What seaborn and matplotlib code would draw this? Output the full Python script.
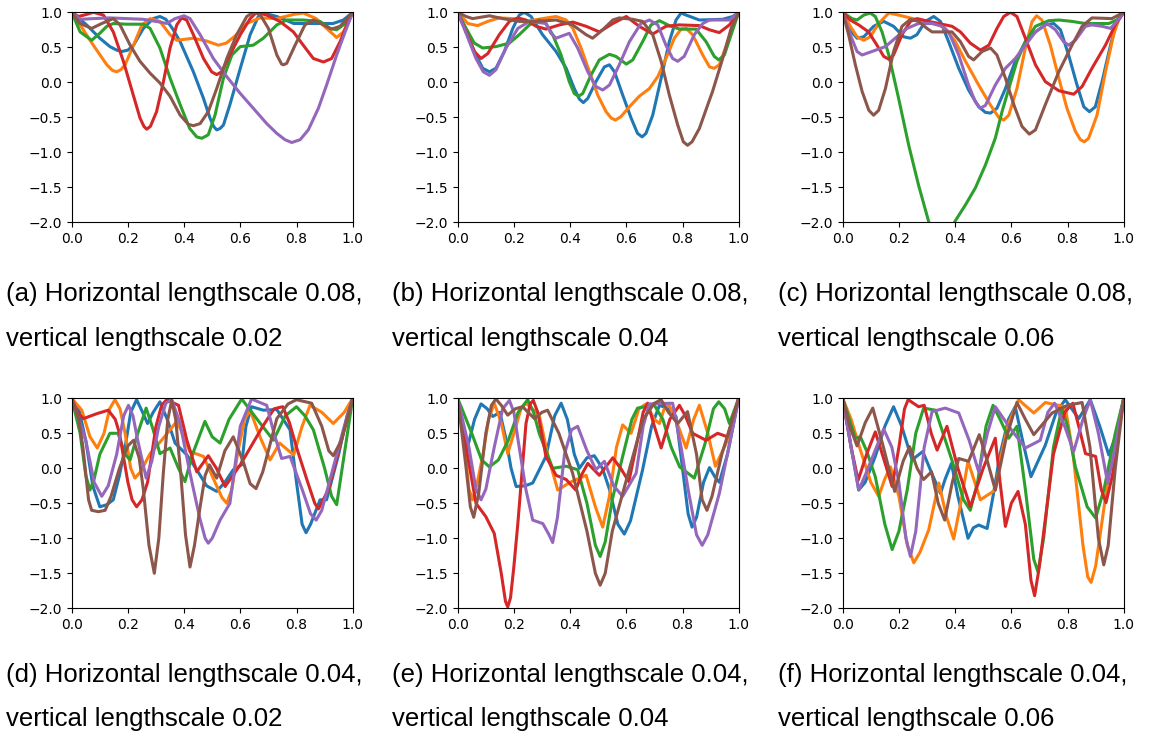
import matplotlib
matplotlib.use("Agg")
import matplotlib.pyplot as plt
import seaborn as sns
import pandas as pd

# ---------------- data ----------------
series_names = ["s1", "s2", "s3", "s4", "s5", "s6"]
palette = ["#1f77b4", "#ff7f0e", "#2ca02c", "#d62728", "#9467bd", "#8c564b"]

captions = [
    ("(a) Horizontal lengthscale 0.08,", "vertical lengthscale 0.02"),
    ("(b) Horizontal lengthscale 0.08,", "vertical lengthscale 0.04"),
    ("(c) Horizontal lengthscale 0.08,", "vertical lengthscale 0.06"),
    ("(d) Horizontal lengthscale 0.04,", "vertical lengthscale 0.02"),
    ("(e) Horizontal lengthscale 0.04,", "vertical lengthscale 0.04"),
    ("(f) Horizontal lengthscale 0.04,", "vertical lengthscale 0.06"),
]
x_ticks = [0.0, 0.2, 0.4, 0.6, 0.8, 1.0]
y_ticks = [-2.0, -1.5, -1.0, -0.5, 0.0, 0.5, 1.0]

# panel (a)
a_blue = [(0,1),(0.053,0.82),(0.1,0.63),(0.136,0.51),(0.16,0.46),(0.178,0.44),(0.2,0.46),(0.22,0.53),(0.255,0.77),(0.29,0.91),(0.314,0.94),(0.335,0.9),(0.36,0.76),(0.386,0.58),(0.433,0.15),(0.469,-0.23),(0.492,-0.51),(0.505,-0.63),(0.516,-0.68),(0.528,-0.66),(0.54,-0.61),(0.563,-0.32),(0.6,0.2),(0.635,0.68),(0.664,0.94),(0.682,0.99),(0.73,0.94),(0.79,0.84),(0.86,0.84),(0.93,0.84),(0.967,0.89),(1,1)]
a_orange = [(0,1),(0.03,0.82),(0.077,0.53),(0.125,0.25),(0.145,0.17),(0.16,0.15),(0.175,0.18),(0.19,0.25),(0.22,0.53),(0.25,0.82),(0.279,0.91),(0.314,0.87),(0.35,0.68),(0.374,0.6),(0.433,0.63),(0.48,0.59),(0.522,0.53),(0.55,0.56),(0.587,0.68),(0.623,0.84),(0.67,0.92),(0.73,0.91),(0.79,0.97),(0.824,0.99),(0.87,0.91),(0.907,0.77),(0.943,0.64),(0.967,0.72),(1,1)]
a_green = [(0,1),(0.03,0.72),(0.071,0.6),(0.1,0.7),(0.125,0.8),(0.148,0.84),(0.196,0.83),(0.255,0.83),(0.279,0.77),(0.314,0.49),(0.35,0.06),(0.386,-0.32),(0.42,-0.66),(0.445,-0.78),(0.463,-0.8),(0.486,-0.75),(0.51,-0.47),(0.54,0.06),(0.57,0.39),(0.6,0.51),(0.646,0.53),(0.682,0.63),(0.73,0.82),(0.765,0.89),(0.824,0.89),(0.884,0.87),(0.919,0.77),(0.943,0.75),(0.973,0.84),(1,1)]
a_red = [(0,1),(0.024,0.94),(0.053,0.97),(0.077,1.0),(0.113,0.96),(0.148,0.72),(0.184,0.3),(0.219,-0.18),(0.243,-0.51),(0.257,-0.63),(0.267,-0.67),(0.28,-0.63),(0.302,-0.42),(0.326,0.0),(0.35,0.49),(0.374,0.82),(0.391,0.92),(0.409,0.89),(0.433,0.68),(0.469,0.34),(0.498,0.15),(0.516,0.11),(0.534,0.15),(0.563,0.39),(0.6,0.68),(0.635,0.91),(0.658,1.0),(0.694,0.96),(0.741,0.87),(0.789,0.72),(0.824,0.53),(0.86,0.34),(0.896,0.29),(0.925,0.34),(0.955,0.58),(0.979,0.82),(1,1)]
a_purple = [(0,1),(0.03,0.9),(0.077,0.91),(0.136,0.92),(0.255,0.9),(0.314,0.86),(0.338,0.84),(0.368,0.91),(0.4,0.95),(0.421,0.91),(0.457,0.68),(0.504,0.34),(0.552,0.08),(0.6,-0.16),(0.646,-0.37),(0.694,-0.59),(0.73,-0.73),(0.759,-0.82),(0.783,-0.86),(0.813,-0.82),(0.842,-0.68),(0.878,-0.37),(0.907,-0.04),(0.943,0.39),(0.973,0.72),(1,1)]
a_brown = [(0,1),(0.03,0.84),(0.071,0.77),(0.107,0.84),(0.148,0.91),(0.172,0.82),(0.208,0.53),(0.243,0.3),(0.279,0.13),(0.314,-0.01),(0.35,-0.2),(0.386,-0.47),(0.415,-0.6),(0.433,-0.62),(0.457,-0.59),(0.486,-0.42),(0.516,-0.09),(0.552,0.34),(0.587,0.68),(0.623,0.94),(0.646,1.0),(0.67,0.97),(0.7,0.77),(0.73,0.39),(0.747,0.26),(0.753,0.25),(0.765,0.27),(0.795,0.53),(0.83,0.82),(0.86,0.89),(0.896,0.82),(0.925,0.76),(0.955,0.8),(0.979,0.91),(1,1)]

# panel (b)
b_blue = [(0,1),(0.03,0.72),(0.065,0.39),(0.089,0.2),(0.113,0.15),(0.136,0.2),(0.166,0.44),(0.196,0.77),(0.219,0.96),(0.237,1.0),(0.261,0.94),(0.302,0.68),(0.35,0.44),(0.386,0.2),(0.415,-0.09),(0.433,-0.24),(0.447,-0.29),(0.463,-0.23),(0.492,0.01),(0.522,0.22),(0.54,0.25),(0.558,0.15),(0.587,-0.18),(0.617,-0.51),(0.64,-0.73),(0.656,-0.78),(0.67,-0.73),(0.694,-0.47),(0.724,0.06),(0.753,0.58),(0.777,0.89),(0.795,0.99),(0.813,0.96),(0.86,0.89),(0.943,0.9),(0.979,0.94),(1,1)]
b_orange = [(0,1),(0.036,0.84),(0.071,0.81),(0.107,0.87),(0.148,0.92),(0.196,0.91),(0.243,0.87),(0.302,0.91),(0.35,0.94),(0.386,0.89),(0.41,0.77),(0.439,0.49),(0.469,0.15),(0.498,-0.18),(0.528,-0.42),(0.546,-0.51),(0.561,-0.54),(0.581,-0.49),(0.611,-0.35),(0.646,-0.2),(0.682,-0.09),(0.712,0.08),(0.741,0.34),(0.771,0.63),(0.795,0.76),(0.813,0.77),(0.836,0.68),(0.872,0.39),(0.896,0.22),(0.913,0.2),(0.931,0.25),(0.961,0.58),(0.985,0.87),(1,1)]
b_green = [(0,1),(0.03,0.77),(0.059,0.56),(0.089,0.49),(0.136,0.51),(0.184,0.56),(0.219,0.68),(0.255,0.82),(0.29,0.89),(0.314,0.84),(0.338,0.68),(0.368,0.39),(0.397,0.01),(0.415,-0.16),(0.43,-0.2),(0.445,-0.16),(0.474,0.1),(0.504,0.32),(0.54,0.4),(0.563,0.37),(0.6,0.26),(0.623,0.32),(0.658,0.58),(0.688,0.82),(0.718,0.88),(0.753,0.81),(0.79,0.76),(0.848,0.76),(0.884,0.58),(0.913,0.37),(0.929,0.32),(0.949,0.39),(0.973,0.68),(1,1)]
b_red = [(0,1),(0.03,0.72),(0.059,0.44),(0.083,0.34),(0.107,0.41),(0.148,0.68),(0.184,0.87),(0.214,0.92),(0.243,0.89),(0.279,0.8),(0.314,0.76),(0.362,0.82),(0.41,0.86),(0.457,0.8),(0.504,0.72),(0.552,0.84),(0.6,0.94),(0.646,0.8),(0.694,0.69),(0.741,0.8),(0.789,0.82),(0.86,0.81),(0.896,0.75),(0.931,0.71),(0.967,0.82),(1,1)]
b_purple = [(0,1),(0.03,0.7),(0.065,0.34),(0.091,0.15),(0.113,0.1),(0.136,0.18),(0.172,0.49),(0.214,0.77),(0.255,0.87),(0.314,0.84),(0.332,0.7),(0.35,0.63),(0.397,0.7),(0.427,0.49),(0.463,0.15),(0.492,-0.06),(0.516,-0.11),(0.54,-0.04),(0.575,0.25),(0.611,0.58),(0.652,0.84),(0.682,0.89),(0.712,0.82),(0.741,0.53),(0.765,0.34),(0.783,0.3),(0.806,0.37),(0.842,0.68),(0.872,0.84),(0.896,0.89),(0.967,0.89),(1,1)]
b_brown = [(0,1),(0.03,0.94),(0.053,0.91),(0.113,0.95),(0.16,0.91),(0.219,0.87),(0.279,0.87),(0.35,0.89),(0.409,0.82),(0.457,0.68),(0.48,0.63),(0.516,0.75),(0.552,0.89),(0.575,0.92),(0.623,0.9),(0.658,0.87),(0.694,0.68),(0.724,0.3),(0.753,-0.18),(0.783,-0.61),(0.803,-0.85),(0.818,-0.9),(0.834,-0.85),(0.86,-0.66),(0.89,-0.32),(0.907,-0.13),(0.943,0.34),(0.973,0.77),(1,1)]

# panel (c)
c_blue = [(0,1),(0.021,0.77),(0.051,0.63),(0.075,0.65),(0.11,0.8),(0.146,0.87),(0.181,0.8),(0.217,0.65),(0.241,0.63),(0.264,0.68),(0.294,0.87),(0.324,0.94),(0.348,0.87),(0.377,0.58),(0.413,0.2),(0.448,-0.11),(0.484,-0.35),(0.508,-0.43),(0.526,-0.44),(0.549,-0.37),(0.579,-0.09),(0.614,0.3),(0.65,0.58),(0.686,0.72),(0.721,0.82),(0.751,0.84),(0.775,0.75),(0.804,0.39),(0.834,-0.04),(0.858,-0.35),(0.878,-0.42),(0.899,-0.35),(0.923,0.01),(0.953,0.53),(0.976,0.87),(1,1)]
c_orange = [(0,1),(0.027,0.8),(0.051,0.65),(0.075,0.6),(0.098,0.65),(0.128,0.84),(0.164,0.99),(0.199,0.96),(0.27,0.89),(0.342,0.82),(0.365,0.77),(0.401,0.58),(0.437,0.3),(0.484,-0.04),(0.525,-0.32),(0.555,-0.5),(0.573,-0.54),(0.591,-0.47),(0.62,-0.09),(0.65,0.49),(0.674,0.87),(0.69,0.95),(0.709,0.89),(0.739,0.53),(0.769,0.06),(0.798,-0.37),(0.828,-0.7),(0.846,-0.82),(0.86,-0.85),(0.875,-0.8),(0.905,-0.47),(0.935,0.15),(0.964,0.68),(0.982,0.89),(1,1)]
c_green = [(0,1),(0.033,0.91),(0.051,0.89),(0.075,0.96),(0.098,0.99),(0.116,0.94),(0.14,0.72),(0.164,0.39),(0.199,-0.23),(0.235,-0.9),(0.27,-1.47),(0.306,-1.99),(0.35,-2.4),(0.399,-1.99),(0.437,-1.75),(0.472,-1.51),(0.508,-1.18),(0.543,-0.8),(0.567,-0.42),(0.591,-0.09),(0.62,0.3),(0.65,0.58),(0.686,0.8),(0.733,0.88),(0.769,0.89),(0.816,0.87),(0.863,0.84),(0.947,0.84),(0.976,0.89),(1,1)]
c_red = [(0,1),(0.027,0.89),(0.057,0.82),(0.092,0.72),(0.122,0.53),(0.146,0.37),(0.164,0.33),(0.181,0.39),(0.211,0.68),(0.241,0.87),(0.265,0.91),(0.306,0.87),(0.389,0.8),(0.419,0.72),(0.454,0.56),(0.49,0.46),(0.52,0.53),(0.549,0.77),(0.573,0.94),(0.597,1.0),(0.62,0.94),(0.65,0.63),(0.686,0.25),(0.721,0.01),(0.769,-0.12),(0.822,-0.17),(0.852,-0.06),(0.887,0.2),(0.935,0.53),(0.97,0.82),(1,1)]
c_purple = [(0,1),(0.027,0.68),(0.051,0.44),(0.069,0.39),(0.104,0.44),(0.152,0.51),(0.187,0.63),(0.229,0.77),(0.27,0.84),(0.318,0.84),(0.354,0.8),(0.377,0.72),(0.413,0.39),(0.448,-0.04),(0.472,-0.28),(0.49,-0.37),(0.508,-0.33),(0.543,-0.04),(0.579,0.2),(0.614,0.34),(0.65,0.53),(0.686,0.72),(0.727,0.84),(0.757,0.75),(0.786,0.58),(0.804,0.53),(0.828,0.6),(0.864,0.8),(0.887,0.82),(0.923,0.8),(0.953,0.77),(0.976,0.87),(1,1)]
c_brown = [(0,1),(0.021,0.68),(0.045,0.25),(0.069,-0.13),(0.093,-0.4),(0.11,-0.47),(0.128,-0.4),(0.152,-0.09),(0.181,0.44),(0.211,0.8),(0.241,0.9),(0.27,0.87),(0.3,0.77),(0.318,0.72),(0.389,0.72),(0.419,0.58),(0.448,0.37),(0.466,0.32),(0.496,0.44),(0.526,0.49),(0.549,0.39),(0.579,0.06),(0.609,-0.32),(0.638,-0.63),(0.664,-0.74),(0.686,-0.68),(0.721,-0.32),(0.769,0.15),(0.816,0.53),(0.852,0.8),(0.887,0.92),(0.958,0.91),(1,1)]

# panel (d)
d_blue = [(0,1),(0.025,0.85),(0.05,0.4),(0.075,-0.25),(0.1,-0.55),(0.125,-0.52),(0.148,-0.45),(0.17,-0.1),(0.19,0.3),(0.21,0.8),(0.231,0.98),(0.25,0.82),(0.27,0.64),(0.29,0.8),(0.314,0.95),(0.34,0.7),(0.368,0.36),(0.41,0.19),(0.445,-0.02),(0.48,-0.25),(0.516,-0.33),(0.545,-0.2),(0.575,-0.02),(0.605,0.05),(0.62,0.6),(0.64,0.88),(0.682,0.83),(0.73,0.84),(0.777,0.55),(0.8,-0.2),(0.82,-0.8),(0.834,-0.92),(0.85,-0.8),(0.884,-0.45),(0.907,-0.45),(0.95,0.2),(0.98,0.75),(1,1)]
d_orange = [(0,1),(0.036,0.83),(0.065,0.45),(0.091,0.29),(0.115,0.5),(0.135,0.85),(0.154,0.98),(0.172,0.85),(0.19,0.5),(0.21,0.0),(0.225,-0.14),(0.245,-0.05),(0.279,0.21),(0.326,0.43),(0.374,0.67),(0.4,0.45),(0.42,0.24),(0.469,0.17),(0.51,-0.2),(0.535,-0.42),(0.552,-0.5),(0.57,-0.3),(0.59,0.2),(0.615,0.7),(0.635,0.83),(0.67,0.45),(0.706,0.12),(0.74,0.36),(0.79,0.19),(0.82,0.6),(0.848,0.9),(0.89,0.8),(0.931,0.64),(0.97,0.8),(1,1)]
d_green = [(0,1),(0.03,0.5),(0.05,-0.1),(0.065,-0.31),(0.08,-0.15),(0.1,0.2),(0.136,0.5),(0.165,0.5),(0.19,0.2),(0.208,0.12),(0.235,0.5),(0.265,0.86),(0.29,0.55),(0.314,0.21),(0.35,0.29),(0.38,0.0),(0.403,-0.19),(0.43,0.2),(0.474,0.67),(0.5,0.45),(0.528,0.36),(0.56,0.7),(0.605,0.99),(0.66,0.7),(0.718,0.4),(0.76,0.75),(0.8,0.88),(0.83,0.75),(0.86,0.55),(0.9,0.0),(0.925,-0.4),(0.943,-0.52),(0.97,0.2),(1,1)]
d_red = [(0,1),(0.02,0.8),(0.042,0.71),(0.089,0.78),(0.13,0.83),(0.155,0.7),(0.17,0.5),(0.2,-0.2),(0.215,-0.45),(0.231,-0.55),(0.25,-0.45),(0.27,-0.2),(0.3,0.6),(0.32,0.9),(0.338,0.98),(0.38,0.9),(0.41,0.4),(0.445,-0.05),(0.486,0.18),(0.515,0.0),(0.546,-0.26),(0.6,0.05),(0.68,0.6),(0.72,0.85),(0.751,0.88),(0.775,0.65),(0.8,0.3),(0.84,-0.2),(0.865,-0.5),(0.878,-0.58),(0.913,-0.31),(0.96,0.4),(1,1)]
d_purple = [(0,1),(0.05,0.4),(0.08,-0.2),(0.107,-0.4),(0.13,-0.25),(0.16,0.2),(0.185,0.75),(0.202,0.9),(0.218,0.75),(0.235,0.4),(0.265,-0.14),(0.285,0.1),(0.31,0.6),(0.335,0.93),(0.356,0.98),(0.385,0.65),(0.421,-0.07),(0.455,-0.7),(0.475,-1.0),(0.486,-1.07),(0.5,-1.0),(0.528,-0.74),(0.563,-0.5),(0.6,0.6),(0.64,0.99),(0.694,0.9),(0.72,0.5),(0.747,0.14),(0.777,0.17),(0.82,-0.3),(0.85,-0.65),(0.87,-0.74),(0.89,-0.6),(0.93,0.0),(0.97,0.6),(1,1)]
d_brown = [(0,1),(0.025,0.7),(0.04,0.3),(0.06,-0.45),(0.071,-0.6),(0.095,-0.62),(0.119,-0.6),(0.14,-0.4),(0.17,0.0),(0.2,0.32),(0.22,0.4),(0.24,0.15),(0.255,-0.3),(0.275,-1.1),(0.294,-1.5),(0.31,-1.0),(0.326,-0.07),(0.342,0.7),(0.356,0.97),(0.37,0.7),(0.388,-0.07),(0.405,-0.95),(0.421,-1.41),(0.437,-1.1),(0.457,-0.55),(0.475,-0.1),(0.49,0.05),(0.516,-0.14),(0.545,0.25),(0.575,0.45),(0.61,0.1),(0.635,-0.22),(0.656,-0.29),(0.68,-0.05),(0.73,0.71),(0.77,0.92),(0.8,0.98),(0.854,0.93),(0.89,0.6),(0.915,0.25),(0.931,0.18),(0.96,0.4),(1,1)]

# panel (e)
e_blue = [(0,1),(0.02,0.55),(0.035,0.3),(0.06,0.7),(0.083,0.92),(0.105,0.85),(0.125,0.74),(0.15,0.8),(0.17,0.45),(0.19,0.0),(0.208,-0.26),(0.24,-0.25),(0.267,-0.21),(0.314,0.17),(0.345,0.75),(0.368,0.93),(0.39,0.7),(0.415,0.2),(0.433,0.0),(0.46,0.15),(0.486,0.18),(0.515,0.0),(0.54,-0.3),(0.57,-0.8),(0.593,-0.94),(0.615,-0.75),(0.658,-0.02),(0.69,0.6),(0.718,0.9),(0.75,0.85),(0.777,0.74),(0.8,0.0),(0.82,-0.65),(0.834,-0.84),(0.85,-0.7),(0.875,-0.2),(0.896,0.01),(0.915,-0.12),(0.931,-0.2),(0.96,0.2),(1,1)]
e_orange = [(0,1),(0.025,0.3),(0.04,-0.3),(0.053,-0.45),(0.07,-0.2),(0.09,0.2),(0.11,0.7),(0.13,0.93),(0.155,0.65),(0.178,0.21),(0.2,0.5),(0.225,0.85),(0.243,0.93),(0.29,0.76),(0.32,0.2),(0.356,-0.31),(0.4,-0.2),(0.457,-0.1),(0.49,-0.55),(0.516,-0.84),(0.54,-0.4),(0.565,0.3),(0.587,0.62),(0.617,0.5),(0.645,0.85),(0.67,0.92),(0.7,0.7),(0.718,0.64),(0.735,0.85),(0.753,0.9),(0.785,0.6),(0.813,0.29),(0.84,0.7),(0.86,0.9),(0.89,0.5),(0.917,0.03),(0.96,0.4),(1,1)]
e_green = [(0,1),(0.05,0.5),(0.085,0.12),(0.113,0.02),(0.145,0.12),(0.18,0.4),(0.215,0.8),(0.249,0.98),(0.27,0.8),(0.29,0.5),(0.338,0.0),(0.386,0.03),(0.427,-0.02),(0.46,-0.5),(0.49,-1.1),(0.507,-1.26),(0.525,-1.05),(0.55,-0.45),(0.587,0.17),(0.62,0.7),(0.64,0.86),(0.7,0.9),(0.73,0.7),(0.76,0.3),(0.79,0.02),(0.842,-0.14),(0.88,0.35),(0.91,0.85),(0.929,0.95),(0.95,0.85),(0.967,0.64),(1,1)]
e_red = [(0,1),(0.03,0.3),(0.065,-0.5),(0.1,-0.69),(0.13,-0.93),(0.155,-1.5),(0.17,-1.9),(0.178,-1.98),(0.188,-1.85),(0.2,-1.4),(0.214,-0.79),(0.243,0.64),(0.258,0.92),(0.269,0.97),(0.285,0.8),(0.314,0.17),(0.35,-0.1),(0.386,-0.16),(0.42,-0.31),(0.44,-0.1),(0.463,0.07),(0.504,-0.1),(0.552,0.15),(0.58,0.0),(0.609,-0.19),(0.64,0.4),(0.66,0.8),(0.676,0.93),(0.7,0.6),(0.724,0.29),(0.755,0.7),(0.789,0.9),(0.81,0.75),(0.836,0.5),(0.884,0.4),(0.925,0.5),(0.96,0.45),(1,1)]
e_purple = [(0,1),(0.04,0.3),(0.065,-0.3),(0.083,-0.45),(0.1,-0.3),(0.13,0.3),(0.16,0.85),(0.184,0.97),(0.2,0.8),(0.215,0.4),(0.243,-0.31),(0.267,-0.74),(0.303,-0.79),(0.325,-0.95),(0.338,-1.06),(0.355,-0.7),(0.38,0.2),(0.405,0.55),(0.427,0.6),(0.46,0.25),(0.492,-0.02),(0.522,0.1),(0.555,-0.25),(0.587,-0.4),(0.635,-0.07),(0.66,0.6),(0.682,0.92),(0.765,0.93),(0.795,0.3),(0.82,-0.3),(0.85,-0.95),(0.87,-1.1),(0.89,-0.95),(0.931,-0.36),(0.97,0.4),(1,1)]
e_brown = [(0,1),(0.03,0.0),(0.045,-0.55),(0.057,-0.7),(0.075,-0.35),(0.1,0.5),(0.12,0.9),(0.136,0.99),(0.155,0.9),(0.178,0.76),(0.205,0.85),(0.231,0.88),(0.273,0.71),(0.3,0.8),(0.32,0.83),(0.36,0.5),(0.409,-0.07),(0.46,-0.9),(0.49,-1.5),(0.507,-1.67),(0.525,-1.5),(0.55,-0.9),(0.6,-0.17),(0.66,0.7),(0.7,0.93),(0.724,0.98),(0.75,0.8),(0.783,0.64),(0.818,0.81),(0.85,0.2),(0.87,-0.45),(0.887,-0.6),(0.905,-0.4),(0.94,0.2),(1,1)]

# panel (f)
f_blue = [(0,1),(0.03,0.3),(0.057,-0.31),(0.08,-0.2),(0.116,0.17),(0.15,0.6),(0.181,0.88),(0.21,0.6),(0.247,0.12),(0.285,0.24),(0.32,-0.1),(0.348,-0.36),(0.365,-0.15),(0.387,0.07),(0.41,-0.4),(0.446,-1.0),(0.465,-0.85),(0.484,-0.81),(0.514,-0.86),(0.535,-0.4),(0.56,0.2),(0.59,0.7),(0.614,0.88),(0.64,0.4),(0.67,-0.12),(0.721,0.33),(0.76,0.8),(0.792,0.98),(0.84,0.71),(0.881,0.98),(0.915,0.6),(0.947,0.19),(0.975,0.5),(1,1)]
f_orange = [(0,1),(0.03,0.7),(0.06,0.3),(0.1,-0.2),(0.128,-0.4),(0.15,-0.15),(0.17,0.02),(0.2,-0.4),(0.23,-1.1),(0.253,-1.35),(0.275,-1.2),(0.306,-0.88),(0.342,-0.21),(0.37,-0.7),(0.395,-1.01),(0.42,-0.5),(0.446,0.1),(0.49,-0.45),(0.543,-0.31),(0.565,0.2),(0.59,0.64),(0.626,0.98),(0.68,0.79),(0.721,0.94),(0.792,0.88),(0.82,0.2),(0.855,-1.1),(0.872,-1.55),(0.884,-1.63),(0.9,-1.4),(0.95,0.0),(1,1)]
f_green = [(0,1),(0.045,0.43),(0.063,0.45),(0.085,0.25),(0.116,-0.12),(0.15,-0.8),(0.176,-1.16),(0.2,-0.9),(0.23,-0.3),(0.26,0.5),(0.288,0.86),(0.33,0.83),(0.39,0.1),(0.43,-0.45),(0.454,-0.6),(0.48,-0.2),(0.51,0.6),(0.535,0.9),(0.56,0.7),(0.591,0.43),(0.62,0.6),(0.65,-0.3),(0.68,-1.3),(0.695,-1.48),(0.715,-1.0),(0.75,0.3),(0.78,0.86),(0.8,0.6),(0.828,0.02),(0.87,-0.55),(0.9,-0.71),(0.93,-0.3),(0.97,0.5),(1,1)]
f_red = [(0,1),(0.03,0.3),(0.055,-0.17),(0.085,0.2),(0.116,0.52),(0.145,0.15),(0.176,-0.26),(0.2,0.3),(0.22,0.85),(0.233,0.98),(0.27,0.88),(0.29,0.9),(0.315,0.5),(0.336,0.26),(0.371,0.6),(0.41,0.0),(0.454,-0.55),(0.5,0.0),(0.543,0.43),(0.56,-0.2),(0.579,-0.83),(0.6,-0.5),(0.624,-0.33),(0.65,-0.8),(0.67,-1.6),(0.683,-1.82),(0.7,-1.4),(0.75,0.2),(0.79,0.8),(0.819,0.93),(0.84,0.6),(0.864,0.21),(0.9,0.17),(0.92,-0.3),(0.937,-0.49),(0.96,-0.1),(1,1)]
f_purple = [(0,1),(0.03,0.3),(0.057,-0.31),(0.08,-0.1),(0.146,0.56),(0.175,0.3),(0.2,-0.2),(0.225,-1.0),(0.241,-1.26),(0.26,-0.9),(0.29,0.3),(0.318,0.81),(0.365,0.86),(0.413,0.79),(0.45,0.4),(0.484,-0.05),(0.515,0.5),(0.543,0.88),(0.6,0.55),(0.65,0.29),(0.703,0.4),(0.73,0.8),(0.754,0.93),(0.79,0.6),(0.822,0.24),(0.855,0.7),(0.881,0.98),(0.91,0.5),(0.943,-0.21),(0.97,0.3),(1,1)]
f_brown = [(0,1),(0.025,0.6),(0.051,0.32),(0.08,0.65),(0.107,0.86),(0.145,0.3),(0.185,-0.33),(0.215,0.1),(0.238,0.31),(0.265,0.0),(0.288,-0.16),(0.316,-0.05),(0.34,-0.5),(0.363,-0.74),(0.39,-0.2),(0.413,0.14),(0.448,0.1),(0.486,0.48),(0.515,0.1),(0.543,-0.31),(0.58,0.4),(0.62,0.94),(0.65,0.7),(0.68,0.48),(0.745,0.79),(0.8,0.9),(0.852,0.94),(0.88,0.3),(0.91,-1.0),(0.929,-1.38),(0.945,-1.1),(0.97,0.0),(1,1)]

panels = [
    [a_blue, a_orange, a_green, a_red, a_purple, a_brown],
    [b_blue, b_orange, b_green, b_red, b_purple, b_brown],
    [c_blue, c_orange, c_green, c_red, c_purple, c_brown],
    [d_blue, d_orange, d_green, d_red, d_purple, d_brown],
    [e_blue, e_orange, e_green, e_red, e_purple, e_brown],
    [f_blue, f_orange, f_green, f_red, f_purple, f_brown],
]

# ---------------- figure ----------------
plt.rcdefaults()
W, H = 1152, 744
fig = plt.figure(figsize=(W / 100, H / 100), dpi=100)

ax_left_px = [71.7, 457.7, 842.7]
ax_top_px = [12.3, 398.3]
ax_w_px, ax_h_px = 281.0, 210.0
cap_x_px = [6, 392, 778]
cap_y1_px = [294, 675]
cap_y2_px = [339, 719]

for i, curves in enumerate(panels):
    r, c = divmod(i, 3)
    left = ax_left_px[c] / W
    bottom = 1 - (ax_top_px[r] + ax_h_px) / H
    ax = fig.add_axes([left, bottom, ax_w_px / W, ax_h_px / H])
    rows = []
    for name, pts in zip(series_names, curves):
        for x, y in pts:
            rows.append({"x": x, "y": y, "series": name})
    df = pd.DataFrame(rows)
    sns.lineplot(data=df, x="x", y="y", hue="series", hue_order=series_names,
                 palette=palette, estimator=None, sort=False, linewidth=2.2,
                 legend=False, ax=ax, solid_joinstyle="round",
                 solid_capstyle="round")
    ax.set_xlim(0, 1)
    ax.set_ylim(-2, 1)
    ax.set_xticks(x_ticks)
    ax.set_yticks(y_ticks)
    ax.set_xlabel("")
    ax.set_ylabel("")
    ax.tick_params(labelsize=10)
    l1, l2 = captions[i]
    fig.text(cap_x_px[c] / W, 1 - cap_y1_px[r] / H, l1, ha="left", va="center",
             fontsize=18.5, family="Liberation Sans")
    fig.text(cap_x_px[c] / W, 1 - cap_y2_px[r] / H, l2, ha="left", va="center",
             fontsize=18.5, family="Liberation Sans")

fig.savefig("out.png", dpi=100)
